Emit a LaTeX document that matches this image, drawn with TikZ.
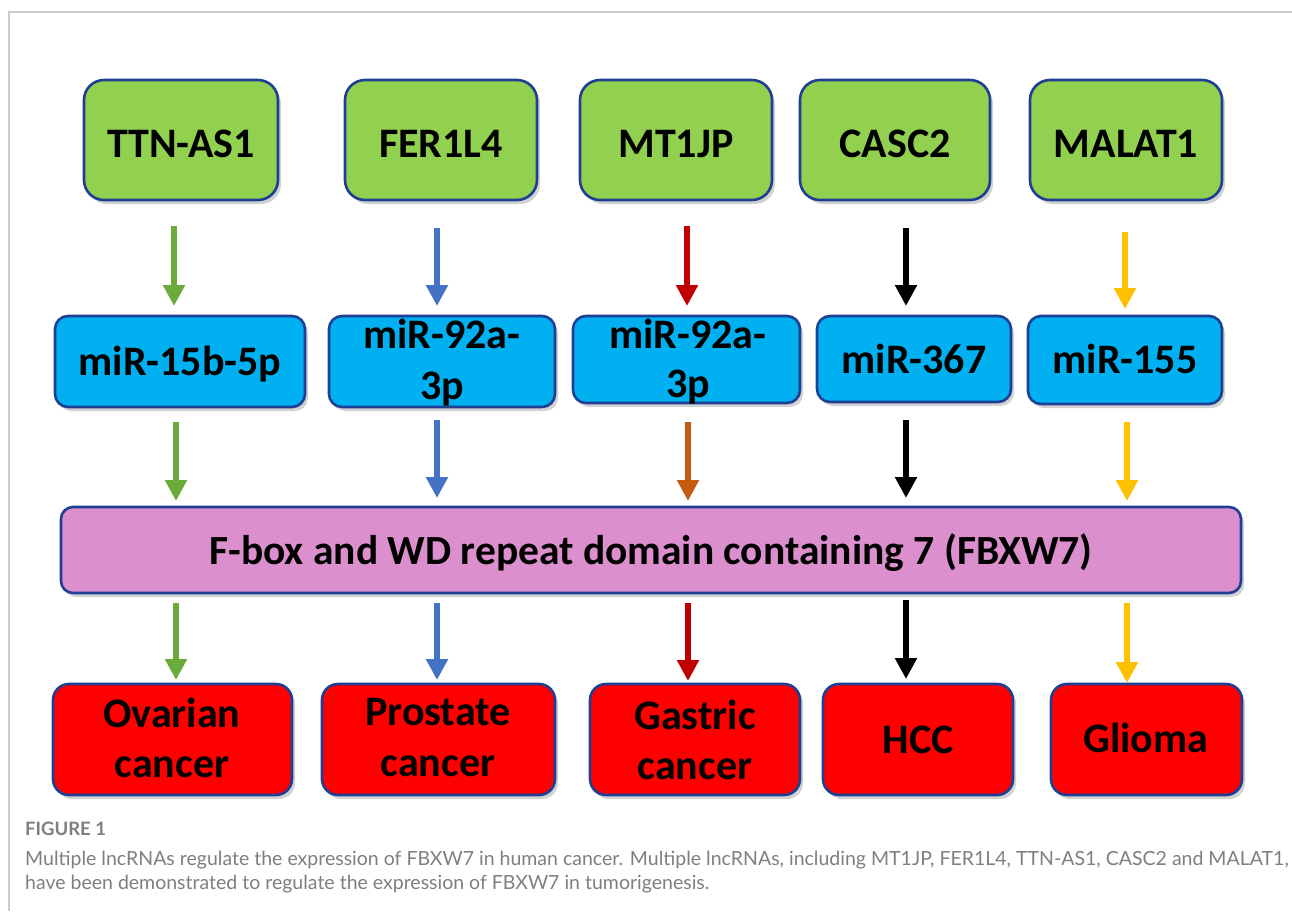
\documentclass[tikz,border=0pt]{standalone}
\usepackage{fontspec}
\setmainfont{Carlito}
\newfontfamily\capfont{Lato}
\usetikzlibrary{arrows.meta,shadows}
\definecolor{lgreen}{HTML}{92D050}
\definecolor{lblue}{HTML}{00B0F0}
\definecolor{lpink}{HTML}{DB90CD}
\definecolor{lred}{HTML}{FF0000}
\definecolor{bord}{HTML}{1F3F94}
\definecolor{agreen}{HTML}{6AAB3A}
\definecolor{ablue}{HTML}{4472C4}
\definecolor{ared}{HTML}{C00000}
\definecolor{aorange}{HTML}{C55A11}
\definecolor{ayellow}{HTML}{FFC000}
\definecolor{capgray}{HTML}{7F7F7F}
\definecolor{framegray}{HTML}{CCCCCC}
\tikzset{
  box/.style={draw=bord, line width=2.6pt, drop shadow={shadow xshift=3pt, shadow yshift=-4pt, opacity=0.35}},
  lbl/.style={font=\bfseries\fontsize{42}{50}\selectfont, align=center, inner sep=0pt, anchor=base},
  arr/.style={line width=6pt, -{Triangle[width=21pt,length=21pt]}},
}
\begin{document}
\begin{tikzpicture}[x=1pt,y=-1pt]
\useasboundingbox (0,0) rectangle (1292,911);
\fill[white] (0,0) rectangle (1292,911);
\draw[framegray, line width=1.2pt] (9,911) -- (9,12) -- (1292,12);

% top row
\foreach \n/\xa/\xb/\t in {t1/84/278/TTN-AS1, t2/345/537/FER1L4, t3/580/772/MT1JP, t4/800/990/CASC2, t5/1030/1222/MALAT1}{
  \draw[box, fill=lgreen, rounded corners=20pt] (\xa,80) rectangle (\xb,200);
  \node[lbl] (\n) at ({(\xa+\xb)/2},157) {\t};
}
% middle row boxes
\foreach \xa/\xb/\yb in {55/305/407, 329/555/407, 573/800/403, 817/1011/402, 1028/1222/404}{
  \draw[box, fill=lblue, rounded corners=13pt] (\xa,316) rectangle (\xb,\yb);
}
\node[lbl] (m1) at (180,375) {miR-15b-5p};
\node[lbl, font=\bfseries\fontsize{42}{51}\selectfont] (m2) at (442,399) {miR-92a-\\3p};
\node[lbl, font=\bfseries\fontsize{42}{49}\selectfont] (m3) at (688,397) {miR-92a-\\3p};
\node[lbl] (m4) at (914,373) {miR-367};
\node[lbl] (m5) at (1125,373) {miR-155};

% FBXW7
\draw[box, fill=lpink, rounded corners=12pt] (61,507) rectangle (1241,593);
\node[lbl, font=\bfseries\fontsize{41.5}{48}\selectfont] (fb) at (651,564) {F-box and WD repeat domain containing 7 (FBXW7)};

% bottom row
\foreach \xa/\xb in {53/292, 322/555, 590/800, 823/1013, 1051/1242}{
  \draw[box, fill=lred, rounded corners=16pt] (\xa,684) rectangle (\xb,795);
}
\node[lbl, font=\bfseries\fontsize{42}{50}\selectfont] (c1) at (172,777) {Ovarian\\cancer};
\node[lbl, font=\bfseries\fontsize{42}{51}\selectfont] (c2) at (438,776) {Prostate\\cancer};
\node[lbl, font=\bfseries\fontsize{42}{50}\selectfont] (c3) at (695,779) {Gastric\\cancer};
\node[lbl] (c4) at (918,753) {HCC};
\node[lbl] (c5) at (1146,752) {Glioma};

% arrows row 1
\coordinate (a1s) at (174,226); \coordinate (a1e) at (174,306);
\coordinate (a2s) at (437,228); \coordinate (a2e) at (437,306);
\coordinate (a3s) at (687,226); \coordinate (a3e) at (687,306);
\coordinate (a4s) at (906,228); \coordinate (a4e) at (906,306);
\coordinate (a5s) at (1125,232); \coordinate (a5e) at (1125,309);
\draw[arr, agreen] (a1s) -- (a1e);
\draw[arr, ablue] (a2s) -- (a2e);
\draw[arr, ared] (a3s) -- (a3e);
\draw[arr, black] (a4s) -- (a4e);
\draw[arr, ayellow] (a5s) -- (a5e);
% arrows row 2
\coordinate (b1s) at (176,422); \coordinate (b1e) at (176,501);
\coordinate (b2s) at (437,420); \coordinate (b2e) at (437,498);
\coordinate (b3s) at (688,422); \coordinate (b3e) at (688,501);
\coordinate (b4s) at (906,420); \coordinate (b4e) at (906,498);
\coordinate (b5s) at (1127,422); \coordinate (b5e) at (1127,501);
\draw[arr, agreen] (b1s) -- (b1e);
\draw[arr, ablue] (b2s) -- (b2e);
\draw[arr, aorange] (b3s) -- (b3e);
\draw[arr, black] (b4s) -- (b4e);
\draw[arr, ayellow] (b5s) -- (b5e);
% arrows row 3
\coordinate (c1s) at (176,603); \coordinate (c1e) at (176,680);
\coordinate (c2s) at (437,603); \coordinate (c2e) at (437,680);
\coordinate (c3s) at (688,603); \coordinate (c3e) at (688,681);
\coordinate (c4s) at (906,600); \coordinate (c4e) at (906,679);
\coordinate (c5s) at (1127,603); \coordinate (c5e) at (1127,683);
\draw[arr, agreen] (c1s) -- (c1e);
\draw[arr, ablue] (c2s) -- (c2e);
\draw[arr, ared] (c3s) -- (c3e);
\draw[arr, black] (c4s) -- (c4e);
\draw[arr, ayellow] (c5s) -- (c5e);

% caption
\node[anchor=base west, inner sep=0pt, text=capgray, font=\capfont\bfseries\fontsize{18.5}{20}\selectfont] (fig) at (25,835) {FIGURE 1};
\node[anchor=base west, inner sep=0pt, text=capgray, font=\capfont\fontsize{19.5}{24}\selectfont] (cap1) at (25,865)
  {Multiple lncRNAs regulate the expression of FBXW7 in human cancer. Multiple lncRNAs, including MT1JP, FER1L4, TTN-AS1, CASC2 and MALAT1,};
\node[anchor=base west, inner sep=0pt, text=capgray, font=\capfont\fontsize{19.5}{24}\selectfont] (cap2) at (25,889)
  {have been demonstrated to regulate the expression of FBXW7 in tumorigenesis.};
\end{tikzpicture}
\end{document}
